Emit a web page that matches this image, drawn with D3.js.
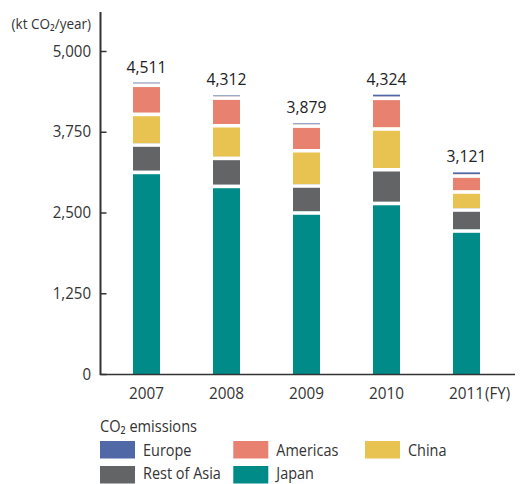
<!DOCTYPE html>
<html><head><meta charset="utf-8">
<script src="https://cdn.jsdelivr.net/npm/d3@7"></script>
<style>
html,body{margin:0;padding:0;background:#fff;}
svg{display:block;font-family:"Open Sans",sans-serif;}
</style></head>
<body><svg id="c" width="523" height="484"></svg>
<script>
const years = ["2007","2008","2009","2010","2011"];
const japan = [3147, 2930, 2519, 2666, 2240];
const restOfAsia = [424, 434, 418, 523, 325];
const china = [474, 506, 546, 630, 279];
const americas = [451, 427, 381, 475, 247];
const europe = [15, 15, 15, 30, 30];
const totals = [4511, 4312, 3879, 4324, 3121];
const yTicks = [0, 1250, 2500, 3750, 5000];
const seriesNames = ["Japan","Rest of Asia","China","Americas","Europe"];
const colors = {"Europe":"#5068a6","Americas":"#e98170","China":"#e8c352","Rest of Asia":"#636466","Japan":"#008b88"};

const rows = years.map((y,i)=>({year:y,"Japan":japan[i],"Rest of Asia":restOfAsia[i],"China":china[i],"Americas":americas[i],"Europe":europe[i]}));
const svg = d3.select("#c");
const y = d3.scaleLinear().domain([0,5000]).range([374,51]);
const x = d3.scalePoint().domain(years).range([146.5,466.5]);
const bw = 27;
const ink = "#333";

function squeeze(sel, f){
  sel.each(function(){
    const w = this.getComputedTextLength();
    d3.select(this).attr("textLength", w*f).attr("lengthAdjust","spacingAndGlyphs");
  });
}

const stack = d3.stack().keys(seriesNames)(rows);
const g = svg.append("g");
stack.forEach(s=>{
  g.selectAll(null).data(s).enter().append("rect")
    .attr("x",d=>x(d.data.year)-bw/2).attr("width",bw)
    .attr("y",d=>y(d[1])).attr("height",d=>y(d[0])-y(d[1]))
    .attr("fill",colors[s.key]);
});
stack.filter(s=>s.key!=="Europe").forEach(s=>{
  g.selectAll(null).data(s).enter().append("rect")
    .attr("x",d=>x(d.data.year)-bw/2).attr("width",bw)
    .attr("y",d=>y(d[1])).attr("height",3.5)
    .attr("fill","#fff");
});

// value labels
const vl = svg.selectAll(null).data(years).enter().append("text")
  .attr("x",d=>x(d)).attr("y",(d,i)=>y(totals[i])-10)
  .attr("text-anchor","middle").attr("font-size",16.5).attr("fill","#222")
  .text((d,i)=>d3.format(",")(totals[i]));
squeeze(vl, 0.95);

// y axis
const ya = svg.append("g").attr("transform","translate(100.5,0)")
  .call(d3.axisRight(y).tickValues(yTicks).tickSize(6).tickFormat(""));
ya.select(".domain").remove();
ya.selectAll("line").attr("stroke",ink).attr("stroke-width",1.5);
svg.append("line").attr("x1",100.5).attr("x2",100.5).attr("y1",12).attr("y2",375)
  .attr("stroke",ink).attr("stroke-width",2);
const yt = svg.selectAll(null).data(yTicks).enter().append("text")
  .attr("x",91).attr("y",d=>y(d)+5.5).attr("text-anchor","end")
  .attr("font-size",15.5).attr("fill",ink).text(d3.format(","));
squeeze(yt, 0.97);
const yl = svg.append("text").attr("x",91).attr("y",28.5).attr("text-anchor","end")
  .attr("font-size",15).attr("fill",ink).text("(kt CO\u2082/year)");
squeeze(yl, 0.9);

// x axis
svg.append("line").attr("x1",100).attr("x2",515).attr("y1",374.5).attr("y2",374.5)
  .attr("stroke",ink).attr("stroke-width",1.5);
const xt = svg.selectAll(null).data(years).enter().append("text")
  .attr("x",d=>x(d)).attr("y",399).attr("text-anchor","middle")
  .attr("font-size",16.8).attr("fill",ink).text(d=>d);
squeeze(xt, 0.91);
const fy = svg.append("text").attr("x",x("2011")+18.5).attr("y",399).attr("font-size",16.8)
  .attr("fill",ink).text("(FY)");
squeeze(fy, 0.9);

// legend
const lt = svg.append("text").attr("x",100).attr("y",432.3).attr("font-size",16.4)
  .attr("fill",ink).text("CO\u2082 emissions");
squeeze(lt, 0.89);
const legendItems = [
  {k:"Europe",x:100,y:441},{k:"Americas",x:233.3,y:441},{k:"China",x:365,y:441},
  {k:"Rest of Asia",x:100,y:466},{k:"Japan",x:233.3,y:466}];
const lg = svg.selectAll(null).data(legendItems).enter().append("g");
lg.append("rect").attr("x",d=>d.x).attr("y",d=>d.y).attr("width",35).attr("height",17.5)
  .attr("fill",d=>colors[d.k]);
const ltx = lg.append("text").attr("x",d=>d.x+43).attr("y",d=>d.y+(d.y>460?12.8:15.2)).attr("font-size",17)
  .attr("fill",ink).text(d=>d.k);
squeeze(ltx, 0.85);
</script></body></html>
